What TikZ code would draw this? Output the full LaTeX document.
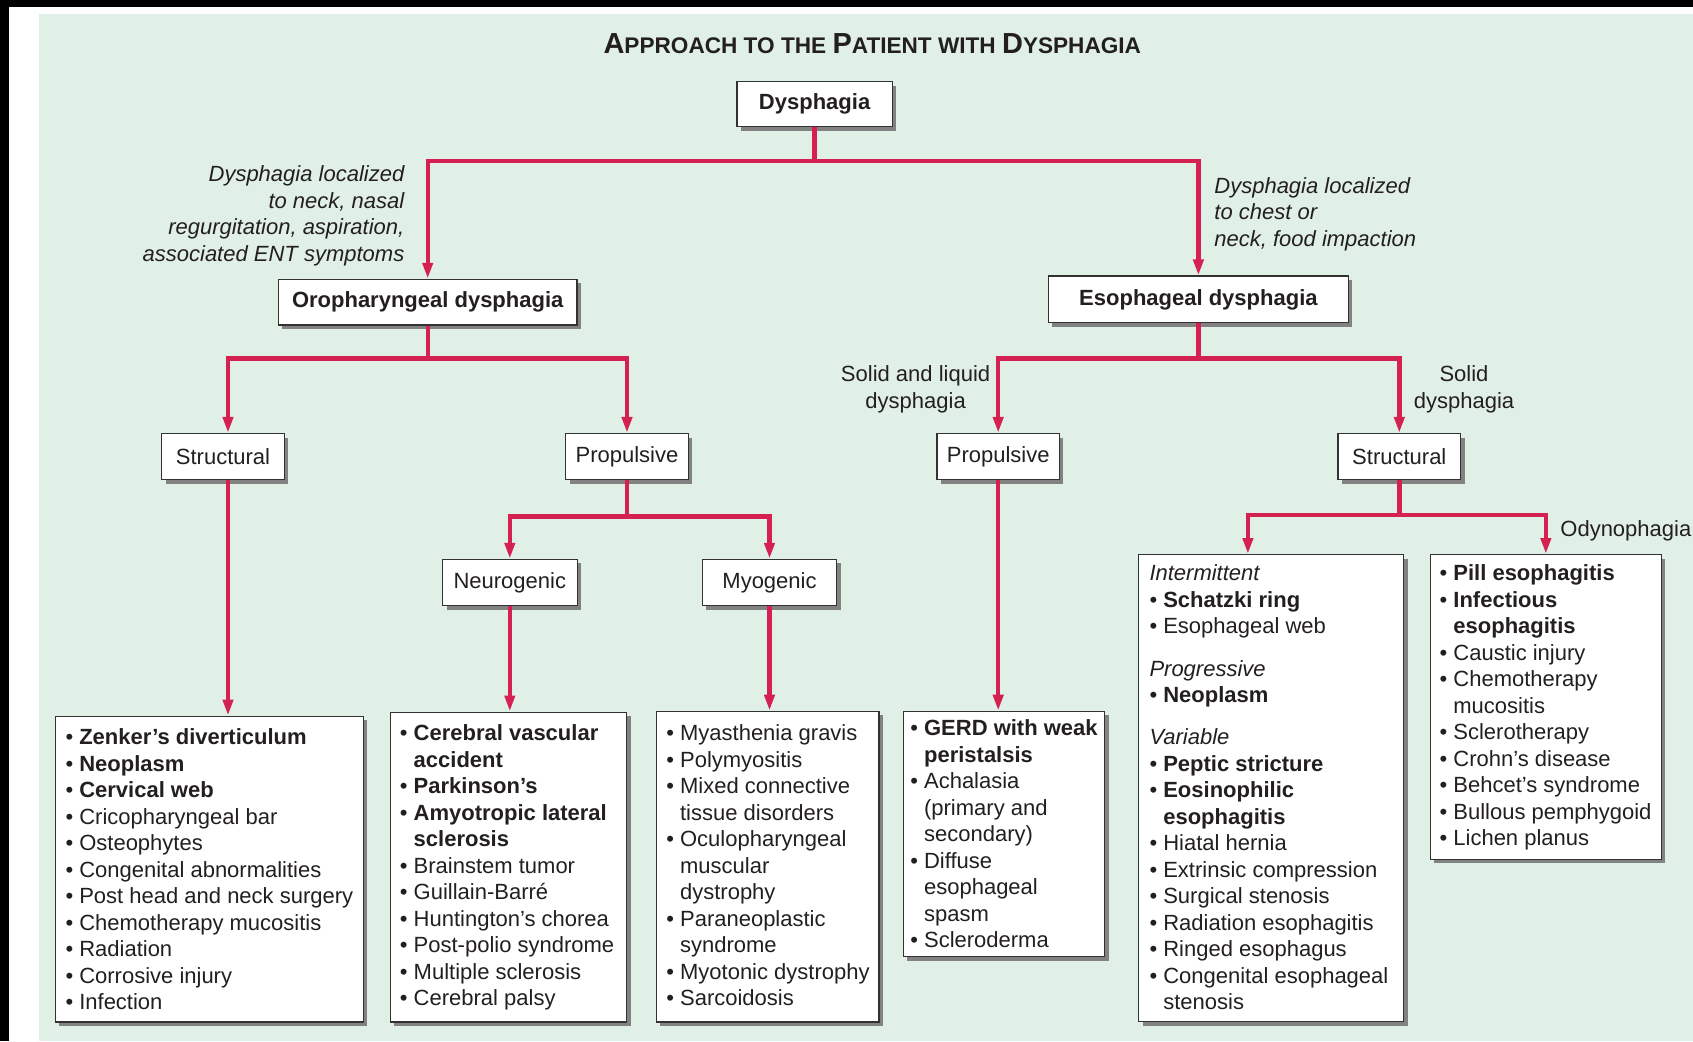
\documentclass[tikz,border=0pt]{standalone}
\usepackage{fontspec}
\setmainfont{Liberation Sans}
\usetikzlibrary{arrows.meta,shadows,calc}
\definecolor{bg}{RGB}{225,240,230}
\definecolor{crim}{RGB}{213,32,82}
\definecolor{txt}{RGB}{35,31,32}
\definecolor{boxline}{RGB}{50,50,50}
\definecolor{shadowc}{RGB}{130,130,130}
\newlength\lpad
\newlength\lbw
\setlength\lbw{6.9pt}
\newcommand\lbi[1]{\par\noindent\hspace*{\lpad}\lfs\makebox[\lbw][l]{•}\mbox{#1}}
\newcommand\lci[1]{\par\noindent\hspace*{\lpad}\hspace*{\lbw}\mbox{#1}}
\newcommand\lhi[1]{\par\noindent\hspace*{\lpad}\lfs\mbox{\itshape #1}}
\newcommand\lgap{\par\vspace{7.85pt}}
\newcommand\lbox[5]{\parbox[t][#2][t]{#1}{\fontsize{11}{13.25}\selectfont\lineskiplimit=-20pt\setlength\lpad{#3}\def\lfs{\rule{0pt}{#4}\def\lfs{}}#5\par}}
\newcommand\tbig[1]{{\fontsize{14.5}{16}\selectfont #1}}
\begin{document}
\begin{tikzpicture}[x=0.5pt,y=-0.5pt,
  boxb/.style={draw=boxline, line width=0.6pt, fill=white, text=txt, inner sep=0pt,
    drop shadow={shadow xshift=2pt, shadow yshift=-2pt, opacity=1, fill=shadowc}},
  topbox/.style={boxb, font=\bfseries\fontsize{11}{13.3}\selectfont},
  catbox/.style={boxb, font=\fontsize{11}{13.3}\selectfont, minimum width=61.25pt, minimum height=23.1pt},
  listbox/.style={boxb, anchor=north west},
  lab/.style={text=txt, inner sep=0pt, font=\fontsize{11}{13.3}\selectfont},
  ilab/.style={lab, font=\itshape\fontsize{11}{13.3}\selectfont},
  conn/.style={draw=crim, line width=2.2pt},
  arr/.style={conn, -{Triangle[width=5pt,length=8pt]}}
]
\useasboundingbox (0,0) rectangle (1693,1041);
\fill[black] (0,0) rectangle (1693,1041);
\fill[white] (9,7) rectangle (1693,1041);
\fill[bg] (39,14) rectangle (1693,1041);

% title
\node[lab, anchor=base, font=\bfseries\fontsize{11.3}{14}\selectfont] (title) at (872.3,53.3)
  {\tbig{A}PPROACH TO THE \tbig{P}ATIENT WITH \tbig{D}YSPHAGIA};

% top boxes
\node[topbox, minimum width=77.65pt, minimum height=22.5pt] (dys) at (814.6,104.2) {Dysphagia};
\node[topbox, minimum width=149.3pt, minimum height=22.85pt] (oro) at (427.7,302.2) {Oropharyngeal dysphagia};
\node[topbox, minimum width=150.05pt, minimum height=23.35pt] (eso) at (1198.4,299.4) {Esophageal dysphagia};

% category boxes
\node[catbox] (strL) at (223,456.6) {Structural};
\node[catbox] (proL) at (627,456.6) {Propulsive};
\node[catbox] (proR) at (998.2,456.6) {Propulsive};
\node[catbox] (strR) at (1399.3,456.6) {Structural};
\node[catbox, minimum width=67.3pt] (neu) at (509.8,582.5) {Neurogenic};
\node[catbox, minimum width=67.3pt] (myo) at (769.5,582.5) {Myogenic};

% labels
\node[ilab, anchor=base east] (labL) at (404.7,181.7)
  {\def\arraystretch{1}\begin{tabular}[t]{@{}r@{}}Dysphagia localized\\to neck, nasal\\regurgitation, aspiration,\\associated ENT symptoms\end{tabular}};
\node[ilab, anchor=base west] (labR) at (1214,193.3)
  {\def\arraystretch{1}\begin{tabular}[t]{@{}l@{}}Dysphagia localized\\to chest or\\neck, food impaction\end{tabular}};
\node[lab, anchor=base] (labSL) at (915.6,381.5)
  {\def\arraystretch{1}\begin{tabular}[t]{@{}c@{}}Solid and liquid\\dysphagia\end{tabular}};
\node[lab, anchor=base] (labS) at (1464,381.5)
  {\def\arraystretch{1}\begin{tabular}[t]{@{}c@{}}Solid\\dysphagia\end{tabular}};
\node[lab, anchor=base west] (labO) at (1560,536.5) {Odynophagia};

% list boxes
\node[listbox] (box1) at (54.5,715.6) {\lbox{154pt}{152.9pt}{5.2pt}{14.3pt}{%
\lbi{\textbf{Zenker’s diverticulum}}
\lbi{\textbf{Neoplasm}}
\lbi{\textbf{Cervical web}}
\lbi{Cricopharyngeal bar}
\lbi{Osteophytes}
\lbi{Congenital abnormalities}
\lbi{Post head and neck surgery}
\lbi{Chemotherapy mucositis}
\lbi{Radiation}
\lbi{Corrosive injury}
\lbi{Infection}}};

\node[listbox] (box2) at (389.7,711.5) {\lbox{118.1pt}{154.95pt}{4.8pt}{14.25pt}{%
\lbi{\textbf{Cerebral vascular}}
\lci{\textbf{accident}}
\lbi{\textbf{Parkinson’s}}
\lbi{\textbf{Amyotropic lateral}}
\lci{\textbf{sclerosis}}
\lbi{Brainstem tumor}
\lbi{Guillain-Barré}
\lbi{Huntington’s chorea}
\lbi{Post-polio syndrome}
\lbi{Multiple sclerosis}
\lbi{Cerebral palsy}}};

\node[listbox] (box3) at (655.7,710.7) {\lbox{111.3pt}{155.35pt}{5pt}{14.65pt}{%
\lbi{Myasthenia gravis}
\lbi{Polymyositis}
\lbi{Mixed connective}
\lci{tissue disorders}
\lbi{Oculopharyngeal}
\lci{muscular}
\lci{dystrophy}
\lbi{Paraneoplastic}
\lci{syndrome}
\lbi{Myotonic dystrophy}
\lbi{Sarcoidosis}}};

\node[listbox] (box4) at (902.7,710.7) {\lbox{100.65pt}{122.65pt}{3.5pt}{12.25pt}{%
\lbi{\textbf{GERD with weak}}
\lci{\textbf{peristalsis}}
\lbi{Achalasia}
\lci{(primary and}
\lci{secondary)}
\lbi{Diffuse}
\lci{esophageal}
\lci{spasm}
\lbi{Scleroderma}}};

\node[listbox] (box5) at (1137.9,554) {\lbox{132.65pt}{233.5pt}{5.5pt}{13.1pt}{%
\lhi{Intermittent}
\lbi{\textbf{Schatzki ring}}
\lbi{Esophageal web}
\lgap
\lhi{Progressive}
\lbi{\textbf{Neoplasm}}
\lgap
\lhi{Variable}
\lbi{\textbf{Peptic stricture}}
\lbi{\textbf{Eosinophilic}}
\lci{\textbf{esophagitis}}
\lbi{Hiatal hernia}
\lbi{Extrinsic compression}
\lbi{Surgical stenosis}
\lbi{Radiation esophagitis}
\lbi{Ringed esophagus}
\lbi{Congenital esophageal}
\lci{stenosis}}};

\node[listbox] (box6) at (1429.8,554) {\lbox{115.45pt}{152.25pt}{4.6pt}{13.1pt}{%
\lbi{\textbf{Pill esophagitis}}
\lbi{\textbf{Infectious}}
\lci{\textbf{esophagitis}}
\lbi{Caustic injury}
\lbi{Chemotherapy}
\lci{mucositis}
\lbi{Sclerotherapy}
\lbi{Crohn’s disease}
\lbi{Behcet’s syndrome}
\lbi{Bullous pemphygoid}
\lbi{Lichen planus}}};

% branch coordinates
\coordinate (b1) at (814.6,161);
\coordinate (b2) at (427.7,358.5);
\coordinate (b3) at (1198.4,358.5);
\coordinate (b4) at (627,516.5);
\coordinate (b5) at (1399.3,514.7);
\coordinate (sLt) at ($(strL.north)+(5,0)$);
\coordinate (sLb) at ($(strL.south)+(5,0)$);
\coordinate (b5t) at ($(box5.north west)+(110,0)$);

% connectors
\draw[conn] (dys.south) -- (b1);
\draw[arr] (b1) -| (oro.north);
\draw[arr] (b1) -| (eso.north);
\draw[conn] (oro.south) -- (b2);
\draw[arr] (b2) -| (sLt);
\draw[arr] (b2) -| (proL.north);
\draw[conn] (eso.south) -- (b3);
\draw[arr] (b3) -| (proR.north);
\draw[arr] (b3) -| (strR.north);
\draw[conn] (proL.south) -- (b4);
\draw[arr] (b4) -| (neu.north);
\draw[arr] (b4) -| (myo.north);
\draw[conn] (strR.south) -- (b5);
\draw[arr] (b5) -| (b5t);
\draw[arr] (b5) -| (box6.north);
\draw[arr] (sLb) -- (sLb |- box1.north);
\draw[arr] (neu.south) -- (neu.south |- box2.north);
\draw[arr] (myo.south) -- (myo.south |- box3.north);
\draw[arr] (proR.south) -- (proR.south |- box4.north);
\end{tikzpicture}
\end{document}
